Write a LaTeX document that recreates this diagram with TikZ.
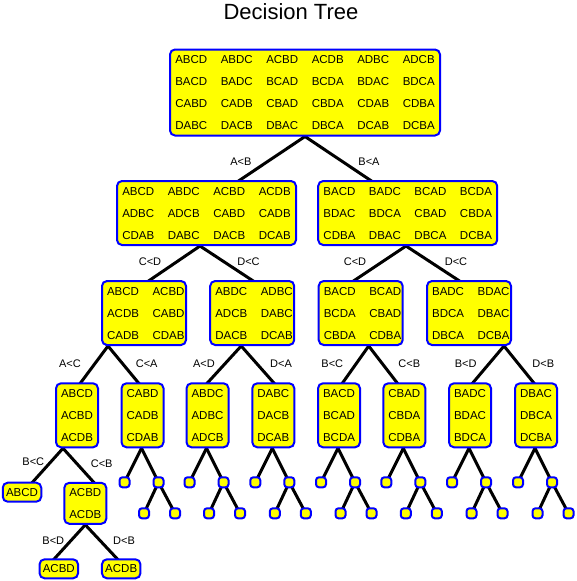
\documentclass[tikz,border=0pt]{standalone}
\usepackage{fontspec}
\setmainfont{Liberation Sans}
\usepackage{array}
\usepackage{tikz}
\usetikzlibrary{backgrounds}
\definecolor{boxblue}{HTML}{0000FF}
\definecolor{boxyellow}{HTML}{FFFF00}
\newcolumntype{Y}{wc{45.5pt}}
\setlength{\tabcolsep}{0pt}

\begin{document}
\begin{tikzpicture}[
  x=1pt, y=-1pt,
  pbox/.style={rectangle, rounded corners=5pt, draw=boxblue, line width=2pt, fill=boxyellow,
    inner xsep=-1.5pt, inner ysep=-1pt, font=\fontsize{11.5}{22}\selectfont},
  pleaf/.style={pbox, inner sep=0pt, minimum height=19pt, minimum width=38.5pt},
  ptiny/.style={rectangle, rounded corners=3pt, draw=boxblue, line width=2pt, fill=boxyellow,
    minimum size=10pt, inner sep=0pt},
  cmp/.style={font=\fontsize{11}{13}\selectfont},
  branch/.style={line width=3pt, shorten <=-3pt, shorten >=-3pt},
]
\begin{scope}[on background layer]
\fill[white] (0,0) rectangle (576,581);
\end{scope}

% title
\node[anchor=base, font=\fontsize{22}{26}\selectfont] (title) at (291,19.5) {Decision Tree};

% root
\node[pbox] (r) at (305,92.5) {\begin{tabular}{*{6}{Y}}
ABCD & ABDC & ACBD & ACDB & ADBC & ADCB\\
BACD & BADC & BCAD & BCDA & BDAC & BDCA\\
CABD & CADB & CBAD & CBDA & CDAB & CDBA\\
DABC & DACB & DBAC & DBCA & DCAB & DCBA
\end{tabular}};

% level 1
\node[pbox] (u1) at (206.5,213) {\begin{tabular}{*{4}{Y}}
ABCD & ABDC & ACBD & ACDB\\
ADBC & ADCB & CABD & CADB\\
CDAB & DABC & DACB & DCAB
\end{tabular}};
\node[pbox] (u2) at (407.7,213) {\begin{tabular}{*{4}{Y}}
BACD & BADC & BCAD & BCDA\\
BDAC & BDCA & CBAD & CBDA\\
CDBA & DBAC & DBCA & DCBA
\end{tabular}};

% level 2
\tikzset{pmid/.style={pbox, inner xsep=-5.3pt}}
\node[pmid] (v1) at (144,313) {\begin{tabular}{@{\hspace{3.6pt}}YY}
ABCD & ACBD\\ ACDB & CABD\\ CADB & CDAB
\end{tabular}};
\node[pmid] (v2) at (252.2,313) {\begin{tabular}{@{\hspace{3.6pt}}YY}
ABDC & ADBC\\ ADCB & DABC\\ DACB & DCAB
\end{tabular}};
\node[pmid] (v3) at (360.7,313) {\begin{tabular}{@{\hspace{3.6pt}}YY}
BACD & BCAD\\ BCDA & CBAD\\ CBDA & CDBA
\end{tabular}};
\node[pmid] (v4) at (469,313) {\begin{tabular}{@{\hspace{3.6pt}}YY}
BADC & BDAC\\ BDCA & DBAC\\ DBCA & DCBA
\end{tabular}};

% level 3
\tikzset{pnar/.style={pbox, inner xsep=0pt, minimum width=42pt}}
\node[pnar] (w1) at (77,415.3) {\begin{tabular}{c}ABCD\\ ACBD\\ ACDB\end{tabular}};
\node[pnar] (w2) at (142.5,415.3) {\begin{tabular}{c}CABD\\ CADB\\ CDAB\end{tabular}};
\node[pnar] (w3) at (207.5,415.3) {\begin{tabular}{c}ABDC\\ ADBC\\ ADCB\end{tabular}};
\node[pnar] (w4) at (273.3,415.3) {\begin{tabular}{c}DABC\\ DACB\\ DCAB\end{tabular}};
\node[pnar] (w5) at (339,415.3) {\begin{tabular}{c}BACD\\ BCAD\\ BCDA\end{tabular}};
\node[pnar] (w6) at (404.3,415.3) {\begin{tabular}{c}CBAD\\ CBDA\\ CDBA\end{tabular}};
\node[pnar] (w7) at (470,415.3) {\begin{tabular}{c}BADC\\ BDAC\\ BDCA\end{tabular}};
\node[pnar] (w8) at (536,415.3) {\begin{tabular}{c}DBAC\\ DBCA\\ DCBA\end{tabular}};

% level 4 and 5
\node[pleaf] (x1) at (22,492.2) {ABCD};
\node[pnar, inner ysep=-1.5pt] (x2) at (85.3,503.3) {\begin{tabular}{c}ACBD\\ ACDB\end{tabular}};
\node[pleaf] (y1) at (58.8,568.8) {ACBD};
\node[pleaf] (y2) at (121.2,568.8) {ACDB};

% small nodes
\node[ptiny] (w2a) at (124.5,482.3) {};
\node[ptiny] (w2b) at (158.5,482.3) {};
\node[ptiny] (w2c) at (144,513.3) {};
\node[ptiny] (w2d) at (175,513.3) {};
\node[ptiny] (w3a) at (189.5,482.3) {};
\node[ptiny] (w3b) at (223.5,482.3) {};
\node[ptiny] (w3c) at (209,513.3) {};
\node[ptiny] (w3d) at (240,513.3) {};
\node[ptiny] (w4a) at (255.3,482.3) {};
\node[ptiny] (w4b) at (289.3,482.3) {};
\node[ptiny] (w4c) at (274.8,513.3) {};
\node[ptiny] (w4d) at (305.8,513.3) {};
\node[ptiny] (w5a) at (321,482.3) {};
\node[ptiny] (w5b) at (355,482.3) {};
\node[ptiny] (w5c) at (340.5,513.3) {};
\node[ptiny] (w5d) at (371.5,513.3) {};
\node[ptiny] (w6a) at (386.3,482.3) {};
\node[ptiny] (w6b) at (420.3,482.3) {};
\node[ptiny] (w6c) at (405.8,513.3) {};
\node[ptiny] (w6d) at (436.8,513.3) {};
\node[ptiny] (w7a) at (452,482.3) {};
\node[ptiny] (w7b) at (486,482.3) {};
\node[ptiny] (w7c) at (471.5,513.3) {};
\node[ptiny] (w7d) at (502.5,513.3) {};
\node[ptiny] (w8a) at (518,482.3) {};
\node[ptiny] (w8b) at (552,482.3) {};
\node[ptiny] (w8c) at (537.5,513.3) {};
\node[ptiny] (w8d) at (568.5,513.3) {};

% edge labels
\node[cmp] (t1) at (240.8,162) {A<B};
\node[cmp] (t2) at (369,162) {B<A};
\node[cmp] (t3) at (150,262) {C<D};
\node[cmp] (t4) at (248.5,262) {D<C};
\node[cmp] (t5) at (355,262) {C<D};
\node[cmp] (t6) at (456,262) {D<C};
\node[cmp] (t7) at (70,364) {A<C};
\node[cmp] (t8) at (146.7,364) {C<A};
\node[cmp] (t9) at (204,364) {A<D};
\node[cmp] (t10) at (281,364) {D<A};
\node[cmp] (t11) at (332.3,364) {B<C};
\node[cmp] (t12) at (409.3,364) {C<B};
\node[cmp] (t13) at (465.7,364) {B<D};
\node[cmp] (t14) at (543.3,364) {D<B};
\node[cmp] (t15) at (33.3,461.7) {B<C};
\node[cmp] (t16) at (101.7,464) {C<B};
\node[cmp] (t17) at (53.3,540.7) {B<D};
\node[cmp] (t18) at (124,540.7) {D<B};

% branches
\begin{scope}[on background layer]
\draw[branch] (r.south) -- ([xshift=33.5pt]u1.north);
\draw[branch] (r.south) -- ([xshift=-37.7pt]u2.north);
\draw[branch] ([xshift=-6.5pt]u1.south) -- ([xshift=6pt]v1.north);
\draw[branch] ([xshift=-6.5pt]u1.south) -- ([xshift=-0.5pt]v2.north);
\draw[branch] ([xshift=-1.7pt]u2.south) -- ([xshift=-5.7pt]v3.north);
\draw[branch] ([xshift=-1.7pt]u2.south) -- ([xshift=-11pt]v4.north);
\draw[branch] ([xshift=-36pt]v1.south) -- ([xshift=4pt]w1.north);
\draw[branch] ([xshift=-36pt]v1.south) -- ([xshift=-4.5pt]w2.north);
\draw[branch] ([xshift=-11pt]v2.south) -- ([xshift=0.5pt]w3.north);
\draw[branch] ([xshift=-11pt]v2.south) -- (w4.north);
\draw[branch] ([xshift=8pt]v3.south) -- ([xshift=4pt]w5.north);
\draw[branch] ([xshift=8pt]v3.south) -- ([xshift=-7.6pt]w6.north);
\draw[branch] ([xshift=35pt]v4.south) -- ([xshift=3.3pt]w7.north);
\draw[branch] ([xshift=35pt]v4.south) -- ([xshift=-2.7pt]w8.north);
\draw[branch] ([xshift=-14pt]w1.south) -- ([xshift=11pt]x1.north);
\draw[branch] ([xshift=-14pt]w1.south) -- ([xshift=8pt]x2.north);
\draw[branch] (x2.south) -- ([xshift=-4pt]y1.north);
\draw[branch] (x2.south) -- ([xshift=-4.5pt]y2.north);
% small subtrees
\draw[branch] ([xshift=-1pt]w2.south) -- (w2a);
\draw[branch] ([xshift=-1pt]w2.south) -- (w2b);
\draw[branch] (w2b) -- (w2c);
\draw[branch] (w2b) -- (w2d);
\draw[branch] ([xshift=-1pt]w3.south) -- (w3a);
\draw[branch] ([xshift=-1pt]w3.south) -- (w3b);
\draw[branch] (w3b) -- (w3c);
\draw[branch] (w3b) -- (w3d);
\draw[branch] ([xshift=-1pt]w4.south) -- (w4a);
\draw[branch] ([xshift=-1pt]w4.south) -- (w4b);
\draw[branch] (w4b) -- (w4c);
\draw[branch] (w4b) -- (w4d);
\draw[branch] ([xshift=-1pt]w5.south) -- (w5a);
\draw[branch] ([xshift=-1pt]w5.south) -- (w5b);
\draw[branch] (w5b) -- (w5c);
\draw[branch] (w5b) -- (w5d);
\draw[branch] ([xshift=-1pt]w6.south) -- (w6a);
\draw[branch] ([xshift=-1pt]w6.south) -- (w6b);
\draw[branch] (w6b) -- (w6c);
\draw[branch] (w6b) -- (w6d);
\draw[branch] ([xshift=-1pt]w7.south) -- (w7a);
\draw[branch] ([xshift=-1pt]w7.south) -- (w7b);
\draw[branch] (w7b) -- (w7c);
\draw[branch] (w7b) -- (w7d);
\draw[branch] ([xshift=-1pt]w8.south) -- (w8a);
\draw[branch] ([xshift=-1pt]w8.south) -- (w8b);
\draw[branch] (w8b) -- (w8c);
\draw[branch] (w8b) -- (w8d);
\end{scope}
\end{tikzpicture}
\end{document}
